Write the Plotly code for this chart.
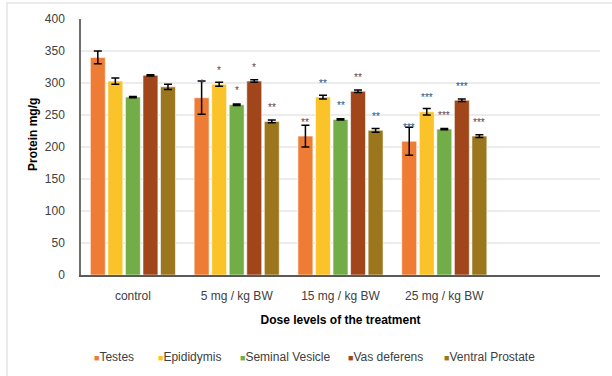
import plotly.graph_objects as go

# Protein content (mg/g) per organ at each dose level, mean and error
categories = ["control", "5 mg / kg BW", "15 mg / kg BW", "25 mg / kg BW"]
organs = ["Testes", "Epididymis", "Seminal Vesicle", "Vas deferens", "Ventral Prostate"]

testes = [340, 277, 217, 209]
testes_err = [10, 26, 17, 22]
epididymis = [303, 298, 278, 255]
epididymis_err = [5, 3, 3, 5]
seminal_vesicle = [278, 266, 243, 228]
seminal_vesicle_err = [1, 1, 1, 1]
vas_deferens = [312, 303, 287, 273]
vas_deferens_err = [1, 2, 2, 2]
ventral_prostate = [294, 240, 226, 217]
ventral_prostate_err = [4, 2, 3, 2]

# Significance marks per dose level (same organ order)
significance = [
    ["", "", "", "", ""],
    ["*", "*", "*", "*", "**"],
    ["**", "**", "**", "**", "**"],
    ["***", "***", "***", "***", "***"],
]

y_ticks = [0, 50, 100, 150, 200, 250, 300, 350, 400]

colors = ["#EF7C34", "#FBC32A", "#72AD48", "#A0461A", "#9B761C"]
series = [testes, epididymis, seminal_vesicle, vas_deferens, ventral_prostate]
errors = [testes_err, epididymis_err, seminal_vesicle_err, vas_deferens_err, ventral_prostate_err]

FONT = "Liberation Sans, Arial, sans-serif"
BARGAP = 0.155
BARGROUPGAP = 0.15

# Plot-area geometry in pixels (used to place the key, titles and the frame)
PLOT_L, PLOT_W = 81, 519
PLOT_T, PLOT_H = 19, 256

def px_to_paper_x(px):
    return (px - PLOT_L) / PLOT_W

def px_to_paper_y(py):
    return 1 - (py - PLOT_T) / PLOT_H

x_idx = list(range(len(categories)))

fig = go.Figure()
for name, vals, errs, col in zip(organs, series, errors, colors):
    fig.add_trace(go.Bar(
        x=x_idx, y=vals, name=name,
        marker=dict(color=col, line=dict(color="rgba(255,255,255,0.55)", width=1)),
        error_y=dict(type="data", array=errs, visible=True, color="#000000",
                     thickness=1.5, width=4),
    ))

# Significance stars above each bar
n = len(organs)
slot = (1 - BARGAP) / n
annotations = []
for i, row in enumerate(significance):
    for j, mark in enumerate(row):
        if not mark:
            continue
        annotations.append(dict(
            x=i + (j - (n - 1) / 2) * slot, y=series[j][i], xref="x", yref="y",
            text=mark, showarrow=False, yanchor="middle", yshift=14,
            font=dict(family=FONT, size=10, color="#3E4A66"),
        ))

# Compact key below the axis title: coloured square followed by the organ name
key_left_px = [92, 156, 238, 346, 442]
for name, col, kx in zip(organs, colors, key_left_px):
    annotations.append(dict(
        x=px_to_paper_x(kx), y=px_to_paper_y(357), xref="paper", yref="paper",
        xanchor="left", yanchor="middle", showarrow=False,
        text=f'<span style="color:{col};font-size:9px">■</span>{name}',
        font=dict(family=FONT, size=12, color="#404040"),
    ))

# Vertical axis title
annotations.append(dict(
    x=px_to_paper_x(33), y=px_to_paper_y(135), xref="paper", yref="paper",
    xanchor="center", yanchor="middle", showarrow=False, textangle=-90,
    text="<b>Protein mg/g</b>", font=dict(family=FONT, size=12, color="#000000"),
))

# Horizontal gridlines (no line at the top of the axis)
shapes = []
for v in y_ticks[1:-1]:
    shapes.append(dict(type="line", xref="paper", yref="y", x0=0, x1=1, y0=v, y1=v,
                       line=dict(color="#D9D9D9", width=1), layer="below"))

# Outer frame of the chart area
shapes.append(dict(type="rect", xref="paper", yref="paper",
                   x0=px_to_paper_x(7), x1=px_to_paper_x(640),
                   y0=px_to_paper_y(420), y1=px_to_paper_y(3),
                   line=dict(color="#E3E3EA", width=1.5), fillcolor="rgba(0,0,0,0)",
                   layer="below"))

fig.update_layout(
    width=612, height=376,
    margin=dict(l=PLOT_L, r=612 - PLOT_L - PLOT_W, t=PLOT_T, b=376 - PLOT_T - PLOT_H,
                autoexpand=False),
    paper_bgcolor="white", plot_bgcolor="white",
    barmode="group", bargap=BARGAP, bargroupgap=BARGROUPGAP,
    font=dict(family=FONT, size=12, color="#404040"),
    showlegend=False,
    annotations=annotations,
    shapes=shapes,
    xaxis=dict(
        range=[-0.5, 4.5], tickmode="array", tickvals=x_idx, ticktext=categories,
        showgrid=False, zeroline=False, showline=True, linecolor="#595959", linewidth=1.5,
        ticks="", ticklabelstandoff=9,
        tickfont=dict(family=FONT, size=12, color="#404040"),
        title=dict(text="<b>Dose levels of the treatment</b>", standoff=13,
                   font=dict(family=FONT, size=12, color="#000000")),
    ),
    yaxis=dict(
        range=[0, 400], tickmode="array", tickvals=y_ticks,
        showgrid=False, zeroline=False, showline=True, linecolor="#6F6F6F", linewidth=1.5,
        ticks="", ticklabelstandoff=12,
        tickfont=dict(family=FONT, size=12, color="#404040"),
    ),
)

fig.write_html("out.html")
